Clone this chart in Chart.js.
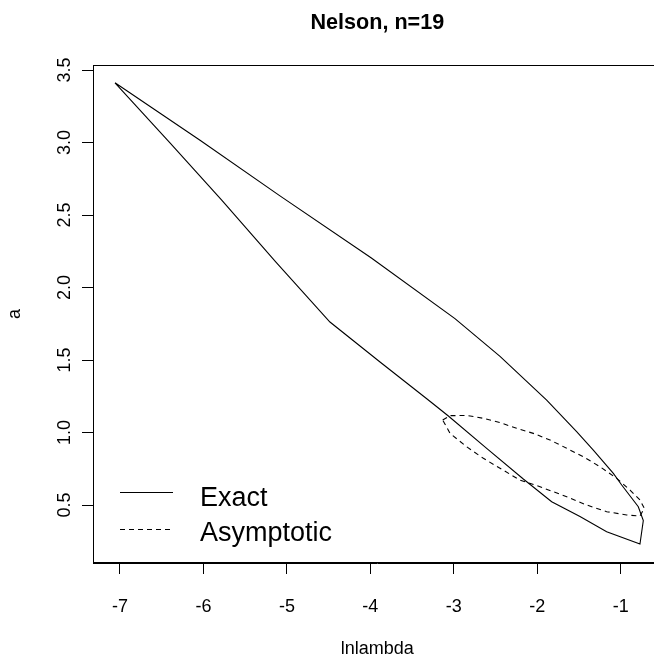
<!DOCTYPE html>
<html>
<head>
<meta charset="utf-8">
<script src="https://cdn.jsdelivr.net/npm/chart.js@4.4.1/dist/chart.umd.min.js"></script>
<style>
  html, body { margin: 0; padding: 0; background: #fff; overflow: hidden; width: 654px; height: 661px; }
  #wrap { width: 680px; height: 661px; }
</style>
</head>
<body>
<div id="wrap"><canvas id="c" width="680" height="661"></canvas></div>
<script>
// ---- data ----
const titleText = "Nelson, n=19";
const xLabel = "lnlambda";
const yLabel = "a";
const seriesNames = ["Exact", "Asymptotic"];

const xTicks = [-7, -6, -5, -4, -3, -2, -1];
const yTicks = [0.5, 1.0, 1.5, 2.0, 2.5, 3.0, 3.5];

// Exact confidence region (closed loop)
const exactX = [-7.060, -6.041, -5.083, -3.992, -2.986, -2.446, -1.887, -1.528, -1.328, -1.088, -0.988, -0.789, -0.729,
                -0.769, -1.168, -1.488, -1.827, -2.167, -2.606, -3.065, -3.305, -3.884, -4.484, -5.134, -5.781, -6.401, -7.060];
const exactY = [3.412, 3.015, 2.632, 2.205, 1.785, 1.525, 1.224, 1.006, 0.879, 0.718, 0.638, 0.488, 0.392,
                0.231, 0.316, 0.420, 0.523, 0.679, 0.891, 1.114, 1.224, 1.486, 1.762, 2.176, 2.603, 2.997, 3.412];

// Asymptotic (ellipse) region
const asymX = [-3.133, -3.045, -2.846, -2.646, -2.446, -2.247, -2.047, -1.847, -1.647, -1.448, -1.248, -1.048, -0.888, -0.769, -0.717,
               -0.769, -0.929, -1.168, -1.408, -1.647, -1.967, -2.207, -2.446, -2.646, -2.846, -3.045, -3.133];
const asymY = [1.086, 1.116, 1.118, 1.098, 1.068, 1.029, 0.994, 0.948, 0.891, 0.833, 0.764, 0.684, 0.603, 0.535, 0.477,
               0.424, 0.431, 0.454, 0.500, 0.557, 0.626, 0.672, 0.753, 0.822, 0.902, 0.994, 1.086];

// ---- chart ----
const FONT = '"Liberation Sans", Arial, Helvetica, sans-serif';
const toPts = (xs, ys) => xs.map((x, i) => ({ x: x, y: ys[i] }));

const decorPlugin = {
  id: 'decor',
  afterDraw(chart) {
    const { ctx, chartArea: a } = chart;
    ctx.save();
    // frame
    ctx.strokeStyle = '#000';
    ctx.lineWidth = 1;
    ctx.setLineDash([]);
    ctx.strokeRect(Math.round(a.left) + 0.5, Math.round(a.top) + 0.5,
                   Math.round(a.right) - Math.round(a.left), Math.round(a.bottom) - Math.round(a.top) - 1);
    // title
    ctx.fillStyle = '#000';
    ctx.font = 'bold 21.6px ' + FONT;
    ctx.textAlign = 'center';
    ctx.textBaseline = 'middle';
    ctx.fillText(titleText, (a.left + a.right) / 2, 23);
    // legend
    const rows = [{ y: 492.5, base: 505.5 }, { y: 529.5, base: 540.5 }];
    chart.data.datasets.forEach((ds, i) => {
      const r = rows[i];
      ctx.beginPath();
      ctx.strokeStyle = ds.borderColor;
      ctx.lineWidth = ds.borderWidth;
      ctx.setLineDash(ds.borderDash || []);
      ctx.moveTo(120, r.y);
      ctx.lineTo(173, r.y);
      ctx.stroke();
      ctx.setLineDash([]);
      ctx.font = '27px ' + FONT;
      ctx.textAlign = 'left';
      ctx.textBaseline = 'alphabetic';
      ctx.fillStyle = '#000';
      ctx.fillText(ds.label, 200, r.base);
    });
    ctx.restore();
  }
};

new Chart(document.getElementById('c'), {
  type: 'scatter',
  data: {
    datasets: [
      { label: seriesNames[0], data: toPts(exactX, exactY), showLine: true, borderColor: '#000', borderWidth: 1.1,
        pointRadius: 0, tension: 0, fill: false },
      { label: seriesNames[1], data: toPts(asymX, asymY), showLine: true, borderColor: '#000', borderWidth: 1.1,
        borderDash: [5, 4], pointRadius: 0, tension: 0, fill: false }
    ]
  },
  options: {
    responsive: false,
    animation: false,
    layout: { padding: { left: 0, top: 65, right: 18.4, bottom: 0 } },
    plugins: { legend: { display: false }, title: { display: false }, tooltip: { enabled: false } },
    scales: {
      x: {
        type: 'linear',
        min: -7.3235, max: -0.5098,
        afterBuildTicks: s => { s.ticks = xTicks.map(v => ({ value: v })); },
        afterFit: s => { s.height = 98; },
        grid: { drawOnChartArea: false, drawTicks: true, tickLength: 11, color: '#000', lineWidth: 1 },
        border: { display: true, color: '#000', width: 1 },
        ticks: { color: '#000', font: { family: FONT, size: 18 }, padding: 22, maxRotation: 0, minRotation: 0,
                 callback: v => String(v) },
        title: { display: true, text: xLabel, color: '#000', font: { family: FONT, size: 18 }, padding: { top: 0, bottom: 1 } }
      },
      y: {
        type: 'linear',
        min: 0.1, max: 3.5345,
        afterBuildTicks: s => { s.ticks = yTicks.map(v => ({ value: v })); },
        afterFit: s => { s.width = 93; },
        grid: { drawOnChartArea: false, drawTicks: true, tickLength: 11, color: '#000', lineWidth: 1 },
        border: { display: true, color: '#000', width: 1 },
        ticks: { color: '#000', font: { family: FONT, size: 18 }, padding: 4, minRotation: 90, maxRotation: 90,
                 crossAlign: 'center', callback: v => Number(v).toFixed(1) },
        title: { display: true, text: yLabel, color: '#000', font: { family: FONT, size: 18 }, padding: { top: 4, bottom: 0 } }
      }
    }
  },
  plugins: [decorPlugin]
});
</script>
</body>
</html>
